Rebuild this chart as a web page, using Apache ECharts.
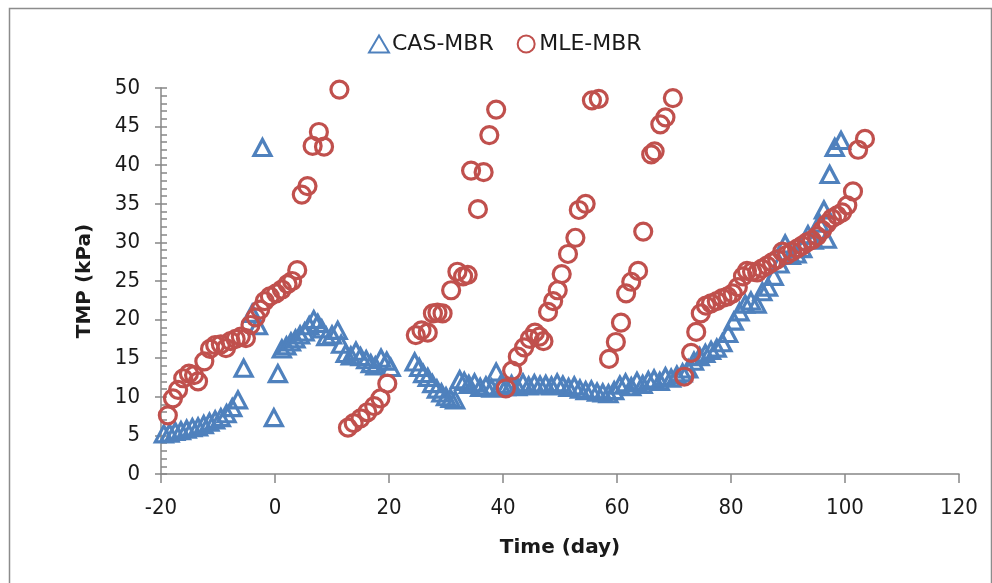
<!DOCTYPE html>
<html>
<head>
<meta charset="utf-8">
<script src="https://cdn.jsdelivr.net/npm/echarts@6/dist/echarts.min.js"></script>
<style>html,body{margin:0;padding:0;background:#fff}#c{width:992px;height:583px}</style>
</head>
<body>
<div id="c"></div>
<script>
// CAS-MBR: [day, TMP kPa]
var casDays = [-19.5,-18.5,-17.5,-16.5,-15.5,-14.5,-13.5,-12.5,-11.5,-10.5,-9.5,-8.5,-7.5,-6.5,-5.5,-4,-3,-2.2,-0.2,0.5,
  1.2,2,2.8,3.6,4.4,5.2,6,6.8,7.5,8.2,9,10,11,11.6,12.4,13.3,14.2,15,16,16.8,17.6,18.6,19.6,20.3,
  24.5,25.3,26,26.8,27.6,28.4,29.2,30,30.8,31.6,32.4,33.2,34,35,36,37,38,38.8,39.6,
  40.5,41.5,42.5,43.5,44.5,45.5,46.5,47.5,48.5,49.5,50.5,51.5,52.5,53.5,54.5,55.5,56.5,57.5,58.5,59.5,
  60.5,61.5,62.5,63.5,64.5,65.5,66.5,67.5,68.5,69.5,70.5,71.5,72.5,73.5,74.5,75.5,76.5,77.5,78.5,79.5,
  80.5,81.5,82.5,83.5,84.5,85.5,86.5,87.5,88.5,89.5,90.5,91.5,92.5,93.5,94.5,95.5,96.3,96.8,97.3,98.2,99.3];
var casTMP = [5.2,5.3,5.5,5.6,5.8,6.0,6.1,6.4,6.7,7.0,7.3,7.8,8.6,9.6,13.7,20.8,19.2,42.3,7.3,13.0,
  16.2,16.6,17.1,17.5,18.0,18.4,19.2,20.0,19.5,18.8,17.8,18.0,18.6,16.8,15.6,15.3,15.9,15.2,14.8,14.3,14.0,15.0,14.6,13.8,
  14.5,13.8,13.0,12.5,11.7,11.0,10.5,10.0,9.8,9.6,12.2,12.0,11.6,11.8,11.2,11.4,11.1,13.2,11.6,
  11.3,11.6,11.3,11.8,11.4,11.7,11.5,11.6,11.4,11.8,11.5,11.2,11.4,11.0,10.8,10.9,10.6,10.5,10.4,10.8,
  11.5,11.8,11.3,12.0,11.6,12.1,12.3,12.0,12.6,12.4,12.8,13.1,13.6,14.6,15.2,15.6,16.0,16.3,17.0,18.2,
  19.8,21.0,22.0,22.4,22.0,23.6,24.2,25.6,27.2,29.8,28.3,28.5,29.2,31.0,30.3,32.5,34.2,30.4,38.8,42.3,43.2];

// MLE-MBR: [day, TMP kPa]
var mleDays = [-18.8,-17.9,-17.0,-16.1,-15.1,-14.2,-13.5,-12.4,-11.4,-10.5,-9.5,-8.6,-7.8,-6.9,-6.0,-5.1,-4.3,-3.4,-2.6,-1.8,-0.9,0.2,1.2,2.2,3.0,3.9,
  4.7,5.7,6.6,7.7,8.6,11.3,
  12.8,13.8,15.0,16.2,17.4,18.5,19.7,
  24.7,25.7,26.8,27.7,28.5,29.4,30.9,32.0,33.0,33.8,34.4,35.6,36.6,37.6,38.8,
  40.5,41.6,42.6,43.7,44.7,45.6,46.4,47.1,47.9,48.8,49.6,50.3,51.4,52.7,53.3,54.5,55.6,56.8,
  58.6,59.8,60.7,61.6,62.5,63.7,64.6,66.0,66.6,67.6,68.5,69.8,
  71.8,73.0,73.9,74.7,75.6,76.5,77.5,78.5,79.4,80.3,81.2,82.1,82.8,83.7,84.6,85.4,86.3,87.2,88.1,89.0,89.8,90.7,91.6,92.5,93.3,94.2,95.1,96.0,96.8,97.7,98.6,99.5,100.4,101.4,102.3,103.5];
var mleTMP = [7.6,9.8,10.9,12.4,13.0,12.8,12.0,14.6,16.2,16.7,16.8,16.3,17.2,17.5,17.8,17.6,19.3,20.3,21.3,22.4,23.0,23.4,23.9,24.6,25.0,26.4,
  36.2,37.3,42.5,44.3,42.4,49.8,
  6.0,6.6,7.2,8.0,8.8,9.8,11.7,
  18.0,18.6,18.3,20.8,20.9,20.8,23.8,26.2,25.6,25.8,39.3,34.3,39.1,43.9,47.2,
  11.1,13.4,15.2,16.4,17.5,18.3,17.8,17.2,21.0,22.4,23.8,25.9,28.5,30.6,34.2,35.0,48.4,48.6,
  14.9,17.1,19.6,23.4,24.9,26.3,31.4,41.4,41.8,45.3,46.2,48.7,
  12.6,15.7,18.4,20.8,21.8,22.1,22.4,22.8,23.0,23.4,24.2,25.6,26.3,26.2,26.1,26.6,27.0,27.4,27.8,28.8,28.4,28.8,29.2,29.6,30.0,30.3,30.8,31.6,32.4,33.1,33.5,33.9,34.8,36.6,42.0,43.4];

var xTicks = [-20, 0, 20, 40, 60, 80, 100, 120];
var yTicks = [0, 5, 10, 15, 20, 25, 30, 35, 40, 45, 50];

function pairs(xs, ys) { return xs.map(function (x, i) { return [x, ys[i]]; }); }

var FONT = '"DejaVu Sans Condensed", "Liberation Sans Narrow", "Liberation Sans", sans-serif';
var FONT_WIDE = '"DejaVu Sans", "Liberation Sans", sans-serif';
var TXT = '#1a1a1a';
var AX = '#868686';

var chart = echarts.init(document.getElementById('c'), null, { renderer: 'canvas' });
chart.setOption({
  animation: false,
  backgroundColor: '#fff',
  graphic: [{
    type: 'rect', left: 7, top: 6, z: -10,
    shape: { width: 982, height: 590 },
    style: { fill: 'none', stroke: '#8c8c8c', lineWidth: 1.5 }
  }],
  legend: {
    top: 33, left: 368, padding: 0,
    itemGap: 23, itemWidth: 20, itemHeight: 17,
    textStyle: { fontFamily: FONT_WIDE, fontSize: 22, color: TXT, padding: [0, 0, 0, -2] },
    data: ['CAS-MBR', 'MLE-MBR']
  },
  grid: { left: 161, right: 33, top: 88, bottom: 109, containLabel: false },
  xAxis: {
    type: 'value', min: xTicks[0], max: xTicks[xTicks.length - 1], interval: 20,
    name: 'Time (day)', nameLocation: 'middle', nameGap: 64,
    nameTextStyle: { fontFamily: FONT_WIDE, fontSize: 20, fontWeight: 'bold', color: TXT },
    axisLine: { show: true, onZero: false, lineStyle: { color: AX, width: 1.5 } },
    axisTick: { show: true, inside: false, length: 9, lineStyle: { color: AX, width: 1.5 } },
    axisLabel: { fontFamily: FONT, fontSize: 22, color: TXT, margin: 23 },
    splitLine: { show: false }
  },
  yAxis: [{
    type: 'value', min: yTicks[0], max: yTicks[yTicks.length - 1], interval: 5,
    name: 'TMP (kPa)', nameLocation: 'middle', nameGap: 66,
    nameTextStyle: { fontFamily: FONT_WIDE, fontSize: 20, fontWeight: 'bold', color: TXT },
    axisLine: { show: true, onZero: false, lineStyle: { color: AX, width: 1.5 } },
    axisTick: { show: true, inside: true, length: 6, lineStyle: { color: AX, width: 1.5 } },
    minorTick: { show: true, splitNumber: 5, length: 6, lineStyle: { color: AX, width: 1.5 } },
    axisLabel: { fontFamily: FONT, fontSize: 22, color: TXT, margin: 21 },
    splitLine: { show: false }
  }, {
    type: 'value', position: 'left', min: yTicks[0], max: yTicks[yTicks.length - 1], interval: 5,
    axisLine: { show: true, onZero: false, lineStyle: { color: 'rgba(0,0,0,0)' } },
    axisTick: { show: true, inside: false, length: 6, lineStyle: { color: AX, width: 1.5 } },
    axisLabel: { show: false },
    splitLine: { show: false }
  }],
  series: [{
    name: 'CAS-MBR', type: 'scatter', yAxisIndex: 0,
    symbol: 'triangle', symbolSize: [17, 16],
    itemStyle: { color: 'rgba(255,255,255,0)', borderColor: '#4F81BD', borderWidth: 3.2, opacity: 1 },
    data: pairs(casDays, casTMP), z: 2
  }, {
    name: 'MLE-MBR', type: 'scatter', yAxisIndex: 0,
    symbol: 'circle', symbolSize: 17,
    itemStyle: { color: 'rgba(255,255,255,0)', borderColor: '#C0504D', borderWidth: 3.2, opacity: 1 },
    data: pairs(mleDays, mleTMP), z: 3
  }]
});
</script>
</body>
</html>
